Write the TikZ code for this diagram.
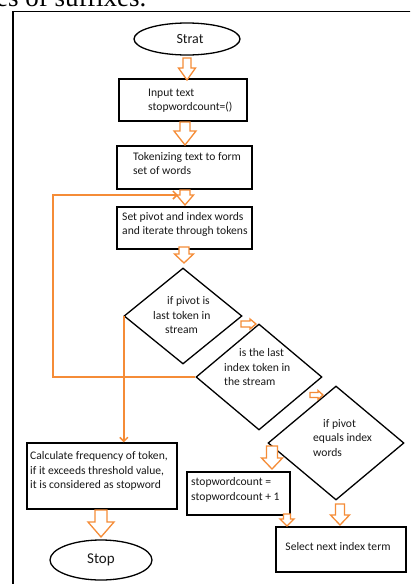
\documentclass[tikz,border=0pt]{standalone}
\usepackage{fontspec}
\setmainfont{Carlito}
\newfontfamily\topserif{Liberation Serif}
\usetikzlibrary{shapes.geometric,arrows.meta,calc}
\definecolor{orng}{RGB}{245,140,55}
\definecolor{ink}{RGB}{25,25,25}
\newcommand{\blkdown}[6]{\draw[blk] (#1-#5,#2) -- (#1+#5,#2) -- (#1+#5,#3) -- (#1+#6,#3) -- (#1,#4) -- (#1-#6,#3) -- (#1-#5,#3) -- cycle;}
\newcommand{\blkright}[6]{\draw[blk] (#2,#1-#5) -- (#2,#1+#5) -- (#3,#1+#5) -- (#3,#1+#6) -- (#4,#1) -- (#3,#1-#6) -- (#3,#1-#5) -- cycle;}
\begin{document}
\begin{tikzpicture}[x=1pt,y=-1pt,
  shp/.style={draw=black,line width=1.3pt,inner sep=0pt,text=ink},
  boxs/.style={shp,rectangle},
  dia/.style={shp,diamond},
  ell/.style={shp,ellipse},
  txt/.style={inner sep=0pt,text=ink,align=left,font=\fontsize{11.6}{14.5}\selectfont},
  blk/.style={draw=orng,line width=1.3pt,fill=white,line join=miter},
  oline/.style={draw=orng,line width=1.5pt},
  frame/.style={draw=black,line width=1.6pt}]
\useasboundingbox (0,0) rectangle (410,584);
\clip (0,0) rectangle (410,584);
\fill[white] (0,0) rectangle (410,584);
% clipped caption fragment at top
\node[anchor=base west,inner sep=0pt,font=\topserif\fontsize{27}{27}\selectfont] (cap) at (-4,6) {es of suffixes.};
% outer frame
\draw[frame] (13,600) -- (13,11.5) -- (430,11.5);
% shapes
\node[ell,minimum width=106pt,minimum height=32pt,font=\fontsize{14}{14}\selectfont] (start) at (187,39) {\hspace*{6pt}Strat};
\node[boxs,minimum width=128pt,minimum height=42pt] (b1) at (183,100) {};
\node[txt,anchor=west] (b1t) at (148,100.5) {Input text\\stopwordcount=()};
\node[boxs,minimum width=135pt,minimum height=43pt] (b2) at (184.5,167.5) {};
\node[txt,anchor=west] (b2t) at (133,163.5) {Tokenizing text to form\\set of words};
\node[boxs,minimum width=135pt,minimum height=42pt] (b3) at (184.5,228) {};
\node[txt,anchor=west] (b3t) at (122,224.5) {Set pivot and index words\\and iterate through tokens};
\node[dia,minimum width=118pt,minimum height=96pt] (d1) at (183,316) {};
\node[txt,anchor=west] (d1t) at (153,315.5) {\hspace*{14pt}if pivot is\\last token in\\\hspace*{12pt}stream};
\node[dia,minimum width=126pt,minimum height=106pt] (d2) at (259,377) {};
\node[txt,anchor=west] (d2t) at (224,367.5) {\hspace*{15pt}is the last\\index token in\\the stream};
\node[dia,minimum width=136pt,minimum height=114pt] (d3) at (336,443) {};
\node[txt,anchor=west] (d3t) at (313,438) {\hspace*{10pt}if pivot\\equals index\\words};
\node[boxs,minimum width=150pt,minimum height=66pt] (b4) at (102,476) {};
\node[txt,anchor=west] (b4t) at (30,471) {Calculate frequency of token,\\if it exceeds threshold value,\\it is considered as stopword};
\node[boxs,minimum width=103pt,minimum height=43pt] (b5) at (238.5,493.5) {};
\node[txt,anchor=west] (b5t) at (191,490) {stopwordcount =\\stopwordcount + 1};
\node[boxs,minimum width=130pt,minimum height=45pt] (b6) at (341,549.5) {};
\node[txt,anchor=center] (b6t) at (338,547) {Select next index term};
\node[ell,minimum width=102pt,minimum height=40pt,font=\fontsize{15}{15}\selectfont] (stop) at (101,560) {Stop};
% orange line connectors
\coordinate (fbc) at (53,195);
\coordinate (fbend) at (178,195);
\coordinate (d1out) at ($(d1.west)+(0.5,0)$);
\draw[oline,-{Straight Barb[length=4pt,width=8pt]}] (d2.west) -| (fbc) -- (fbend);
\draw[oline,-{Straight Barb[length=4pt,width=8pt]}] (d1out) -- (d1out |- b4.north);
% block arrows
\blkdown{187}{58}{68}{80}{4}{8.5}
\blkdown{185}{122}{131}{145}{5}{11}
\blkdown{185}{190}{195}{205}{5}{8.5}
\blkdown{184}{247}{254}{263}{5}{9.5}
\blkright{324}{241}{250}{256}{3}{5}
\blkright{395}{310}{318}{323}{2.5}{4.5}
\blkdown{272}{446}{458}{469}{5.5}{10.5}
\blkdown{287}{514}{519}{526}{3.5}{7}
\blkdown{340}{504}{515}{525}{4.5}{9.5}
\blkdown{101}{510}{522}{537}{6}{13}
\end{tikzpicture}
\end{document}
